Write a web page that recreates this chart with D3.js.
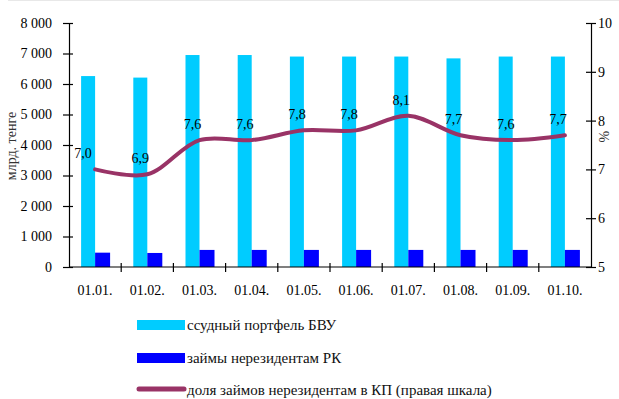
<!DOCTYPE html>
<html>
<head>
<meta charset="utf-8">
<script src="https://cdn.jsdelivr.net/npm/d3@7"></script>
<style>
  html, body { margin: 0; padding: 0; background: #fff; }
  svg { display: block; }
  svg text { font-family: "Liberation Serif", "Times New Roman", serif !important; }
</style>
</head>
<body>
<div id="chart"></div>
<script>
// Dates (first day of month)
const categories = ["01.01.", "01.02.", "01.03.", "01.04.", "01.05.", "01.06.", "01.07.", "01.08.", "01.09.", "01.10."];
// Loan portfolio of second-tier banks, bn tenge
const portfolio = [6260, 6210, 6950, 6950, 6900, 6900, 6900, 6840, 6900, 6900];
// Loans to non-residents, bn tenge
const nonresLoans = [470, 460, 560, 560, 560, 560, 560, 560, 560, 560];
// Share of non-resident loans in the portfolio, % (right scale)
const share = [7.0, 6.9, 7.6, 7.6, 7.8, 7.8, 8.1, 7.7, 7.6, 7.7];
const leftTicks = [0, 1000, 2000, 3000, 4000, 5000, 6000, 7000, 8000];
const rightTicks = [5, 6, 7, 8, 9, 10];
const legendItems = [
  { label: "ссудный портфель БВУ", type: "bar", color: "#00CCFF" },
  { label: "займы нерезидентам РК", type: "bar", color: "#0000FF" },
  { label: "доля займов нерезидентам в КП (правая шкала)", type: "line", color: "#993366" }
];

const W = 619, H = 399;
const m = { left: 69, right: 591, top: 23, bottom: 267 };
const SERIF = "'Liberation Serif', 'Times New Roman', serif";

const svg = d3.select("#chart").append("svg").attr("width", W).attr("height", H);

// faint frame line at the top
svg.append("line").attr("x1", 8).attr("x2", W).attr("y1", 0.5).attr("y2", 0.5)
  .attr("stroke", "#e8e8e8").attr("stroke-width", 1);

const x = d3.scaleBand().domain(categories).range([m.left, m.right]).paddingInner(0).paddingOuter(0);
const yL = d3.scaleLinear().domain([0, 8000]).range([m.bottom, m.top]);
const yR = d3.scaleLinear().domain([5, 10]).range([m.bottom, m.top]);
const barW = 14;
const fmt = d => d3.format(",")(d).replace(/,/g, " ");

// bars: portfolio (left of centre) and non-resident loans (right of centre)
svg.append("g").selectAll("rect").data(portfolio).join("rect")
  .attr("x", (d, i) => x(categories[i]) + x.bandwidth() / 2 - barW)
  .attr("y", d => yL(d))
  .attr("width", barW)
  .attr("height", d => yL(0) - yL(d))
  .attr("fill", legendItems[0].color);

svg.append("g").selectAll("rect").data(nonresLoans).join("rect")
  .attr("x", (d, i) => x(categories[i]) + x.bandwidth() / 2)
  .attr("y", d => yL(d))
  .attr("width", barW + 1)
  .attr("height", d => yL(0) - yL(d))
  .attr("fill", legendItems[1].color);

// share line, smoothed
const line = d3.line()
  .x((d, i) => x(categories[i]) + x.bandwidth() / 2)
  .y(d => yR(d))
  .curve(d3.curveCatmullRom.alpha(0.5));

svg.append("path").datum(share)
  .attr("d", line)
  .attr("fill", "none")
  .attr("stroke", legendItems[2].color)
  .attr("stroke-width", 4)
  .attr("stroke-linecap", "round");

// value labels
svg.append("g").selectAll("text").data(share).join("text")
  .attr("x", (d, i) => x(categories[i]) + x.bandwidth() / 2 - (i === 0 ? 12 : 7))
  .attr("y", d => yR(d) - 11)
  .attr("text-anchor", "middle")
  .style("font-size", "14px")
  .style("fill", "#000")
  .text(d => d.toFixed(1).replace(".", ","));

// axes
const axisStyle = g => {
  g.attr("font-family", null);
  g.selectAll(".domain").attr("stroke", "#000").attr("stroke-width", 1.2);
  g.selectAll(".tick line").attr("stroke", "#000").attr("stroke-width", 1.2);
  g.selectAll("text").style("font-family", SERIF).style("font-size", "14px").style("fill", "#000");
};

const gL = svg.append("g").attr("transform", `translate(${m.left},0)`)
  .call(d3.axisLeft(yL).tickValues(leftTicks).tickFormat(fmt).tickSizeInner(-4).tickSizeOuter(0).tickPadding(17));
axisStyle(gL);
gL.selectAll(".tick line").attr("x1", -6).attr("x2", 4);

const gR = svg.append("g").attr("transform", `translate(${m.right},0)`)
  .call(d3.axisRight(yR).tickValues(rightTicks).tickFormat(d3.format("d")).tickSizeInner(-4).tickSizeOuter(0).tickPadding(7));
axisStyle(gR);
gR.selectAll(".tick line").attr("x1", -5).attr("x2", 5);

// category axis with ticks between groups
const gX = svg.append("g").attr("transform", `translate(0,${m.bottom})`)
  .call(d3.axisBottom(x).tickSize(0).tickSizeOuter(0).tickPadding(18));
axisStyle(gX);
gX.selectAll(".domain").attr("d", `M${m.left},0H${m.right}`);
gX.append("g").selectAll("line").data(categories.slice(1)).join("line")
  .attr("x1", d => x(d)).attr("x2", d => x(d))
  .attr("y1", -4).attr("y2", 5)
  .attr("stroke", "#000").attr("stroke-width", 1.2);

// axis titles
svg.append("text")
  .attr("transform", `translate(16,146) rotate(-90)`)
  .attr("text-anchor", "middle")
  .style("font-size", "14px")
  .style("fill", "#333")
  .text("млрд. тенге");

svg.append("text")
  .attr("transform", `translate(609,${yR(8) + 16}) rotate(-90)`)
  .attr("text-anchor", "middle")
  .style("font-size", "14px")
  .style("fill", "#333")
  .text("%");

// legend
const lg = svg.append("g");
const rowY = [325, 358, 390];
legendItems.forEach((it, i) => {
  if (it.type === "bar") {
    lg.append("rect").attr("x", 137).attr("y", rowY[i] - 5).attr("width", 48).attr("height", 10).attr("fill", it.color);
  } else {
    lg.append("line").attr("x1", 139).attr("x2", 184).attr("y1", rowY[i] - 1).attr("y2", rowY[i] - 1)
      .attr("stroke", it.color).attr("stroke-width", 5).attr("stroke-linecap", "round");
  }
  lg.append("text").attr("x", 187).attr("y", rowY[i]).attr("dy", "0.35em")
    .style("font-size", "15px").style("fill", "#111").text(it.label);
});
</script>
</body>
</html>
